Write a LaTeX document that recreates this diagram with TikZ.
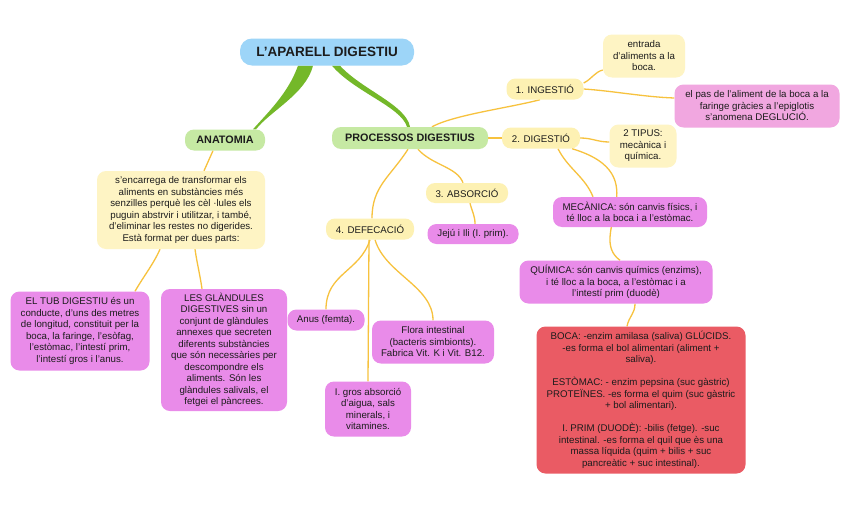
\documentclass[tikz,border=0pt]{standalone}
\usepackage{fontspec}
\setmainfont{Liberation Sans}
\pgfdeclarelayer{links}
\pgfsetlayers{links,main}
\definecolor{titleblue}{HTML}{9DD5F8}
\definecolor{catgreen}{HTML}{C6E9A3}
\definecolor{stepyellow}{HTML}{FDF1B3}
\definecolor{notecream}{HTML}{FEF4C4}
\definecolor{paspink}{HTML}{F1A7E0}
\definecolor{leafviolet}{HTML}{E98BE9}
\definecolor{bocared}{HTML}{EA5B64}
\definecolor{linkyellow}{HTML}{F7C23E}
\definecolor{stemgreen}{HTML}{74B829}
\definecolor{inkgrey}{HTML}{1C1C1C}
\begin{document}
\begin{tikzpicture}[x=1pt,y=-1pt,
  box/.style={rounded corners=9pt,align=center,inner sep=2pt,text=inkgrey,
    font=\fontsize{9.7}{11.5}\selectfont},
  cat/.style={box,fill=catgreen,font=\fontsize{10.8}{13}\selectfont\bfseries},
  stage/.style={box,fill=stepyellow},
  note/.style={box,fill=notecream},
  leaf/.style={box,fill=leafviolet},
  link/.style={draw=linkyellow,line width=1.3pt},
  stem/.style={fill=stemgreen}]
  \useasboundingbox (0,0) rectangle (848,530);
  \node[box,fill=titleblue,rounded corners=12pt,minimum width=174pt,minimum height=27pt,
    font=\fontsize{13.5}{16}\selectfont\bfseries] (title) at (327,52) {L'APARELL DIGESTIU};
  \node[cat,minimum width=80pt,minimum height=21pt] (anat) at (225,140) {ANATOMIA};
  \node[cat,minimum width=156pt,minimum height=22pt] (proc) at (410,138) {PROCESSOS DIGESTIUS};
  \node[stage,minimum width=77pt,minimum height=21pt] (ing) at (545,89) {1. INGESTIÓ};
  \node[note,minimum width=82pt,minimum height=43pt] (entr) at (644,56)
    {entrada\\d'aliments a la\\boca.};
  \node[box,fill=paspink,minimum width=165pt,minimum height=43pt] (pas) at (757,106)
    {el pas de l'aliment de la boca a la\\faringe gràcies a l'epiglotis\\s'anomena DEGLUCIÓ.};
  \node[stage,minimum width=78pt,minimum height=21pt] (dig) at (541,138) {2. DIGESTIÓ};
  \node[note,minimum width=67pt,minimum height=43pt] (tip) at (643,146)
    {2 TIPUS:\\mecànica i\\química.};
  \node[leaf,minimum width=154pt,minimum height=30pt] (mec) at (630,212)
    {MECÀNICA: són canvis físics, i\\té lloc a la boca i a l'estòmac.};
  \node[leaf,minimum width=193pt,minimum height=43pt] (quim) at (616,282)
    {QUÍMICA: són canvis químics (enzims),\\i té lloc a la boca, a l'estòmac i a\\l'intestí prim (duodè)};
  \node[box,fill=bocared,minimum width=209pt,minimum height=147pt] (boca) at (641,400)
    {BOCA: -enzim amilasa (saliva) GLÚCIDS.\\-es forma el bol alimentari (aliment +\\saliva).\\[11.5pt]
     ESTÒMAC: - enzim pepsina (suc gàstric)\\PROTEÏNES. -es forma el quim (suc gàstric\\+ bol alimentari).\\[11.5pt]
     I. PRIM (DUODÈ): -bilis (fetge). -suc\\intestinal. -es forma el quil que ès una\\massa líquida (quim + bilis + suc\\pancreàtic + suc intestinal).};
  \node[stage,minimum width=82pt,minimum height=20pt] (abs) at (467,193) {3. ABSORCIÓ};
  \node[leaf,minimum width=91pt,minimum height=20pt] (jeju) at (473,234) {Jejú i Ili (I. prim).};
  \node[stage,minimum width=88pt,minimum height=21pt] (defe) at (370,229) {4. DEFECACIÓ};
  \node[leaf,minimum width=77pt,minimum height=21pt] (anus) at (326,320) {Anus (femta).};
  \node[leaf,minimum width=122pt,minimum height=43pt] (flora) at (433,342)
    {Flora intestinal\\(bacteris simbionts).\\Fabrica Vit. K i Vit. B12.};
  \node[leaf,minimum width=86pt,minimum height=55pt] (gros) at (368,409)
    {I. gros absorció\\d'aigua, sals\\minerals, i\\vitamines.};
  \node[note,minimum width=168pt,minimum height=78pt] (encar) at (181,210)
    {s'encarrega de transformar els\\aliments en substàncies més\\senzilles perquè les cèl ·lules els\\puguin abstrvir i utilitzar, i també,\\d'eliminar les restes no digerides.\\Està format per dues parts:};
  \node[leaf,minimum width=139pt,minimum height=79pt] (tub) at (80,331)
    {EL TUB DIGESTIU és un\\conducte, d'uns des metres\\de longitud, constituit per la\\boca, la faringe, l'esòfag,\\l'estòmac, l'intestí prim,\\l'intestí gros i l'anus.};
  \node[leaf,minimum width=126pt,minimum height=122pt] (gland) at (224,350)
    {LES GLÀNDULES\\DIGESTIVES sin un\\conjunt de glàndules\\annexes que secreten\\diferents substàncies\\que són necessàries per\\descompondre els\\aliments. Són les\\glàndules salivals, el\\fetgei el pàncrees.};
  \begin{pgfonlayer}{links}
    \fill[white] (0,0) rectangle (848,530);
    \fill[stem] ([xshift=-29pt]title.south) .. controls +(-10,28) and +(14,-16) .. ([xshift=28pt]anat.north)
      -- ([xshift=31pt]anat.north) .. controls +(14,-18) and +(-7,28) .. ([xshift=-14pt]title.south) -- cycle;
    \fill[stem] ([xshift=5pt]title.south) .. controls +(22,26) and +(-6,-20) .. ([xshift=-3pt]proc.north)
      -- ([xshift=0pt]proc.north) .. controls +(-4,-22) and +(22,24) .. ([xshift=13pt]title.south) -- cycle;
    \draw[link] ([xshift=22pt]proc.north) .. controls +(22,-12) and +(-30,8) .. ([xshift=-5pt]ing.south);
    \draw[link] ([yshift=6pt]ing.east) .. controls +(8,-4) and +(-8,2) .. ([yshift=-14pt]entr.west);
    \draw[link] (ing.east) .. controls +(30,2) and +(-30,-1) .. ([yshift=8pt]pas.west);
    \draw[link] (proc.east) -- (dig.west);
    \draw[link] (dig.east) .. controls +(12,0) and +(-12,0) .. ([yshift=4pt]tip.west);
    \draw[link] ([xshift=17pt]dig.south) .. controls +(10,20) and +(-8,-20) .. ([xshift=-37pt]mec.north);
    \draw[link] ([xshift=31pt]dig.south) .. controls (660,175) and (585,235) .. ([xshift=4pt]quim.north);
    \draw[link] ([xshift=19pt]quim.south) .. controls +(0,10) and +(2,-10) .. ([xshift=-14pt]boca.north);
    \draw[link] ([xshift=8pt]proc.south) .. controls +(14,16) and +(-6,-16) .. ([xshift=-4pt]abs.north);
    \draw[link] ([xshift=3pt]abs.south) .. controls +(2,8) and +(0,-8) .. ([xshift=2pt]jeju.north);
    \draw[link] ([xshift=-2pt]proc.south) .. controls +(-18,28) and +(0,-32) .. ([xshift=2pt]defe.north);
    \draw[link] (defe.south) .. controls +(-10,32) and +(0,-36) .. (anus.north);
    \draw[link] ([xshift=-1pt]defe.south) -- (gros.north);
    \draw[link] ([xshift=5pt]defe.south) .. controls +(10,34) and +(0,-34) .. (flora.north);
    \draw[link] ([xshift=-12pt]anat.south) -- ([xshift=23pt]encar.north);
    \draw[link] ([xshift=-21pt]encar.south) .. controls +(-6,14) and +(8,-14) .. ([xshift=55pt]tub.north);
    \draw[link] ([xshift=14pt]encar.south) .. controls +(2,14) and +(-2,-14) .. ([xshift=-22pt]gland.north);
  \end{pgfonlayer}
\end{tikzpicture}
\end{document}
